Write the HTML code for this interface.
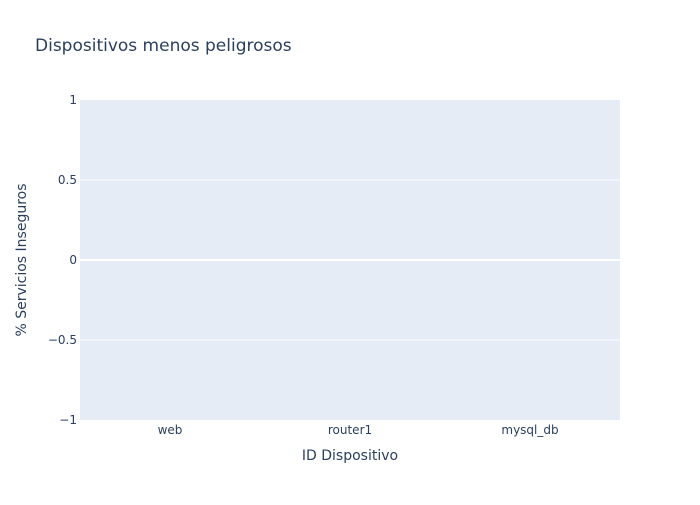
<!DOCTYPE html>
<html><head><meta charset="utf-8"><style>
body{margin:0;background:#fff}
svg text{font-family:"DejaVu Sans",sans-serif;fill:#2a3f5f}
</style></head><body>
<svg id="chart" width="700" height="500">
<rect x="0" y="0" width="700" height="500" fill="#fff"/>
<rect x="80" y="100" width="540" height="320" fill="#e5ecf6"/>
<g id="grid"></g><g id="bars"></g><g id="xticks"></g><g id="yticks"></g>
<text x="35" y="51" font-size="17">Dispositivos menos peligrosos</text>
<text x="350" y="460" font-size="14" text-anchor="middle">ID Dispositivo</text>
<text x="0" y="0" font-size="14" text-anchor="middle" transform="translate(26,260) rotate(-90)">% Servicios Inseguros</text>
</svg>
<script>
const categories=["web","router1","mysql_db"];
const values=[0,0,0];
const yTicks=[-1,-0.5,0,0.5,1];
const yTickLabels=["−1","−0.5","0","0.5","1"];
const NS="http://www.w3.org/2000/svg";
const x0=80,x1=620,yTop=100,yBot=420,yMin=-1,yMax=1;
const band=(x1-x0)/categories.length;
const xPos=i=>x0+band*(i+0.5);
const yPos=v=>yBot-(v-yMin)/(yMax-yMin)*(yBot-yTop);
function mk(t,a){const e=document.createElementNS(NS,t);for(const k in a)e.setAttribute(k,a[k]);return e;}
const grid=document.getElementById('grid'),yt=document.getElementById('yticks');
yTicks.forEach((v,i)=>{
 if(v!==yMin&&v!==yMax){const l=mk('line',{x1:x0,x2:x1,y1:yPos(v),y2:yPos(v),stroke:'#fff','stroke-width':v===0?2:1});
 
 grid.appendChild(l);}
 const t=mk('text',{x:x0-3,y:yPos(v)+4,'font-size':12,'text-anchor':'end'});t.textContent=yTickLabels[i];
 
 yt.appendChild(t);
});
const bars=document.getElementById('bars'),xt=document.getElementById('xticks');
categories.forEach((c,i)=>{
 const w=band*0.8,y=Math.min(yPos(values[i]),yPos(0)),h=Math.abs(yPos(values[i])-yPos(0));
 const r=mk('rect',{x:xPos(i)-w/2,y:y,width:w,height:h,fill:'#636efa'});
 
 bars.appendChild(r);
 const t=mk('text',{x:xPos(i),y:yBot+14,'font-size':12,'text-anchor':'middle'});t.textContent=c;
 
 xt.appendChild(t);
});
</script>
</body></html>
